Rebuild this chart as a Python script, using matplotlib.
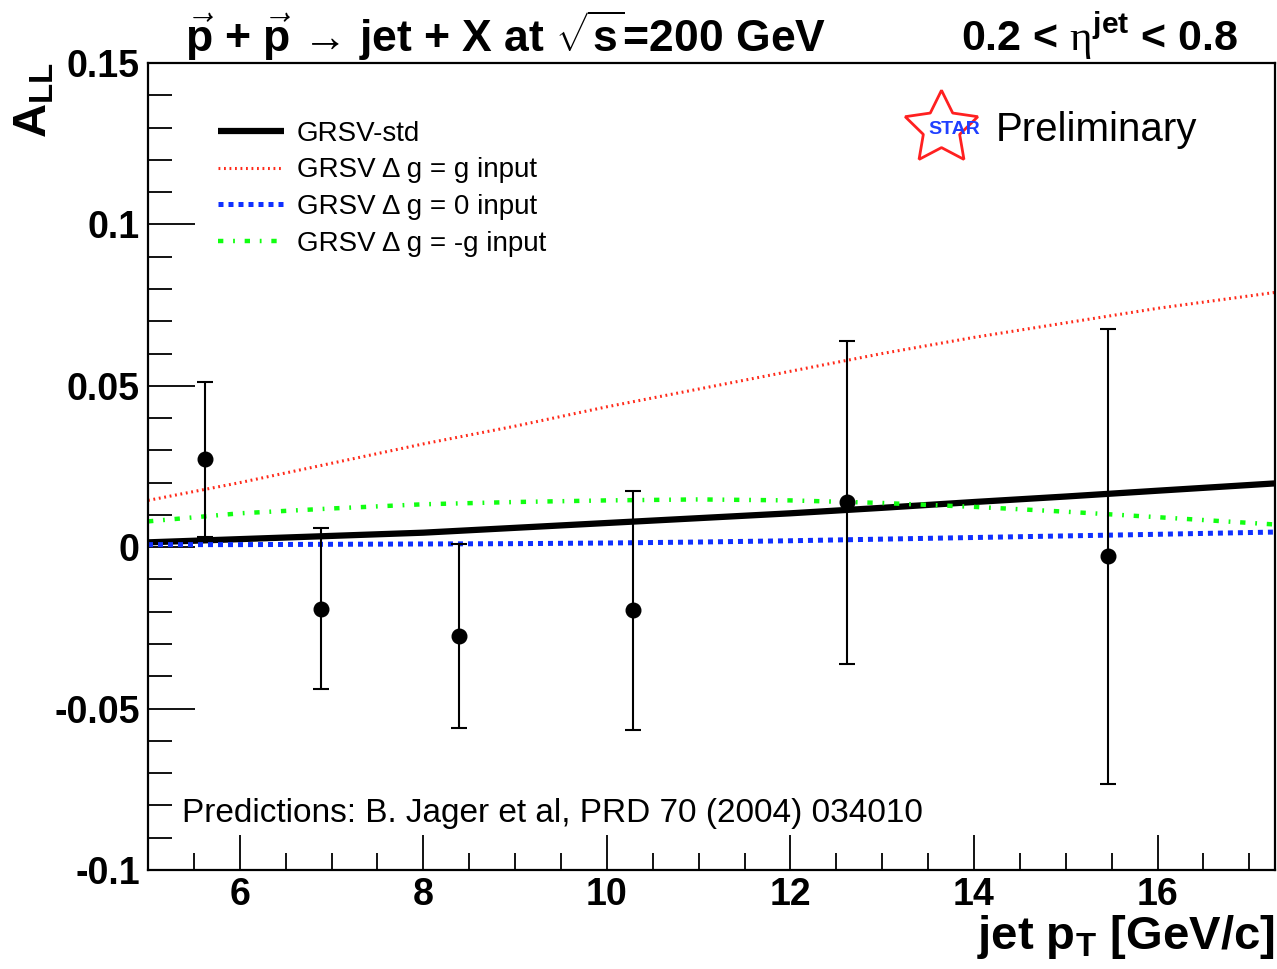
import numpy as np
import matplotlib
matplotlib.use("Agg")
import matplotlib.pyplot as plt
from matplotlib import font_manager
from matplotlib.ticker import MultipleLocator, FuncFormatter

names = {f.name for f in font_manager.fontManager.ttflist}
narrow = "Liberation Sans Narrow" if "Liberation Sans Narrow" in names else "Liberation Sans"

plt.rcParams["font.family"] = ["Liberation Sans", "DejaVu Sans"]
plt.rcParams["mathtext.fontset"] = "custom"
plt.rcParams["mathtext.rm"] = narrow + ":bold"
plt.rcParams["mathtext.it"] = narrow + ":bold"
plt.rcParams["mathtext.bf"] = narrow + ":bold"
plt.rcParams["mathtext.sf"] = "Liberation Serif"

# measured asymmetry A_LL vs jet pT
pt = [5.62, 6.88, 8.39, 10.29, 12.62, 15.46]
a_ll = [0.0273, -0.0190, -0.0275, -0.0195, 0.0139, -0.0028]
a_err = [0.0240, 0.0250, 0.0285, 0.0370, 0.0500, 0.0705]

# GRSV predictions
pt_curve = [5.0, 6.0, 7.0, 8.0, 9.0, 10.0, 11.0, 12.0, 13.0, 14.0, 15.0, 16.0, 17.3]
grsv_std = [0.0015, 0.0025, 0.0035, 0.0045, 0.0060, 0.0075, 0.0090, 0.0105, 0.0122, 0.0140, 0.0157, 0.0175, 0.0198]
grsv_g = [0.0145, 0.0200, 0.0260, 0.0320, 0.0375, 0.0435, 0.0490, 0.0545, 0.0600, 0.0650, 0.0695, 0.0740, 0.0790]
grsv_0 = [0.0008, 0.0008, 0.0009, 0.0010, 0.0011, 0.0013, 0.0016, 0.0020, 0.0025, 0.0030, 0.0035, 0.0040, 0.0047]
grsv_mg = [0.0080, 0.0105, 0.0120, 0.0133, 0.0140, 0.0145, 0.0148, 0.0145, 0.0137, 0.0125, 0.0110, 0.0093, 0.0070]

fig = plt.figure(figsize=(12.77, 9.69), dpi=100)
ax = fig.add_axes([148 / 1277, 1 - 870 / 969, (1275 - 148) / 1277, (870 - 63) / 969])

ax.plot(pt_curve, grsv_std, color="black", lw=4.5, solid_capstyle="butt", label="GRSV-std")
ax.plot(pt_curve, grsv_g, color="#ff2a1a", lw=2.2, dashes=(0.6, 1.2), label="GRSV Δ g = g input")
ax.plot(pt_curve, grsv_0, color="#1030ff", lw=3.6, dashes=(1.0, 1.0), label="GRSV Δ g = 0 input")
ax.plot(pt_curve, grsv_mg, color="#10ff10", lw=3.2, dashes=(1.2, 2.2, 0.4, 2.2), label="GRSV Δ g = -g input")

ax.errorbar(pt, a_ll, yerr=a_err, fmt="o", color="black", ms=10.5, elinewidth=1.5,
            capsize=6, capthick=1.5, zorder=5)

ax.set_xlim(5.0, 17.28)
ax.set_ylim(-0.1, 0.15)

ax.xaxis.set_major_locator(MultipleLocator(2))
ax.xaxis.set_minor_locator(MultipleLocator(0.5))
ax.yaxis.set_major_locator(MultipleLocator(0.05))
ax.yaxis.set_minor_locator(MultipleLocator(0.01))
ax.yaxis.set_major_formatter(FuncFormatter(lambda v, p: "%g" % round(v, 3)))
ax.tick_params(which="both", direction="in", top=False, right=False, width=1.3)
ax.tick_params(axis="y", which="major", length=34, labelsize=27, pad=6)
ax.tick_params(axis="y", which="minor", length=17)
ax.tick_params(axis="x", which="major", length=25, labelsize=27, pad=5)
ax.tick_params(axis="x", which="minor", length=12)
for lab in ax.get_xticklabels() + ax.get_yticklabels():
    lab.set_fontfamily(narrow)
    lab.set_fontweight("bold")
for sp in ax.spines.values():
    sp.set_linewidth(1.6)

leg = ax.legend(loc="upper left", bbox_to_anchor=(0.052, 0.942), frameon=False, fontsize=20,
                handlelength=2.4, handletextpad=0.45, labelspacing=0.38, borderaxespad=0)

# STAR logo and preliminary tag
ax.plot([0.704], [0.92], transform=ax.transAxes, marker=(5, 1, 0), ms=55, mfc="none",
        mec="#ff2020", mew=2.0, clip_on=False)
ax.text(0.7155, 0.917, "STAR", transform=ax.transAxes, color="#2040ff", fontsize=14,
        fontweight="bold", ha="center", va="center")
ax.text(0.752, 0.917, "Preliminary", transform=ax.transAxes, fontsize=29, ha="left", va="center")

ax.text(0.03, 0.07, "Predictions: B. Jager et al, PRD 70 (2004) 034010", transform=ax.transAxes,
        fontsize=24, ha="left", va="center")

# titles and axis labels
fig.text(185 / 1277, 1 - 36 / 969, r"$\vec{p}$ + $\vec{p}$ → jet + X at $\sqrt{s}$=200 GeV",
         fontsize=32, fontfamily=narrow, fontweight="bold", ha="left", va="center")
fig.text(1238 / 1277, 1 - 36 / 969, r"0.2 < $\mathsf{\eta}^{\mathrm{jet}}$ < 0.8",
         fontsize=31, fontfamily=narrow, fontweight="bold", ha="right", va="center")
fig.text(35 / 1277, 1 - 100 / 969, r"A$_{\mathrm{LL}}$", fontsize=34, fontfamily=narrow,
         fontweight="bold", rotation=90, ha="center", va="center")
fig.text(1275 / 1277, 1 - 937 / 969, r"jet p$_{\mathrm{T}}$ [GeV/c]", fontsize=34, fontfamily=narrow,
         fontweight="bold", ha="right", va="center")

fig.savefig("out.png", dpi=100)
